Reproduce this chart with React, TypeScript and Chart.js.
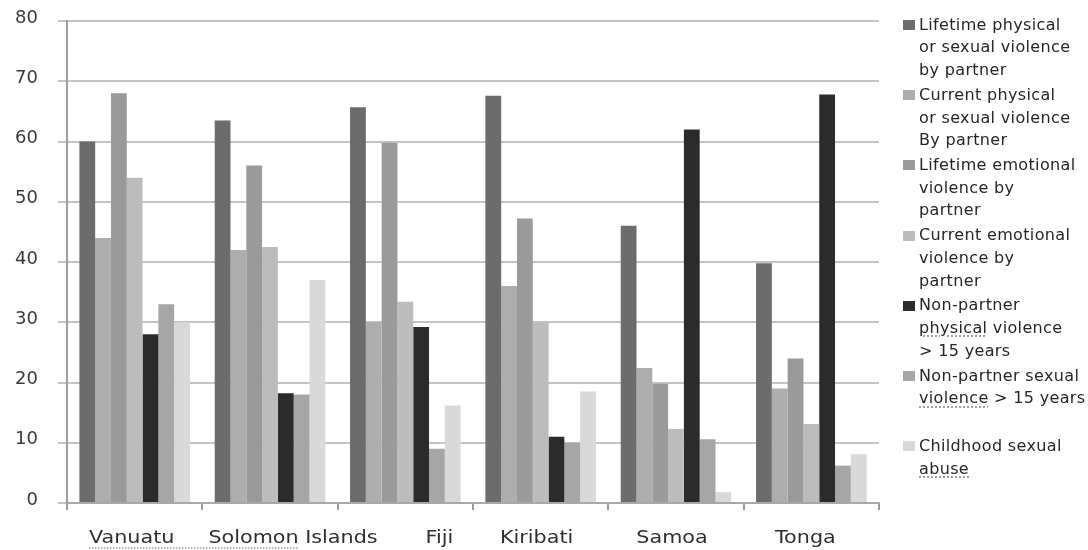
import React, { useEffect, useRef } from "react";
import { Chart, registerables } from "chart.js";

Chart.register(...registerables);

const categories = ["Vanuatu", "Solomon Islands", "Fiji", "Kiribati", "Samoa", "Tonga"];

const lifetimePhysSexPartner = [60, 63.5, 65.7, 67.6, 46, 39.8];
const currentPhysSexPartner = [44, 42, 30, 36, 22.4, 19];
const lifetimeEmotionalPartner = [68, 56, 59.8, 47.2, 19.8, 24];
const currentEmotionalPartner = [54, 42.5, 33.4, 30, 12.3, 13.1];
const nonPartnerPhysical = [28, 18.2, 29.2, 11, 62, 67.8];
const nonPartnerSexual = [33, 18, 9, 10, 10.6, 6.2];
const childhoodSexualAbuse = [30, 37, 16.2, 18.5, 1.8, 8.1];

const seriesLabels: string[][] = [
  ["Lifetime physical", "or sexual violence", "by partner"],
  ["Current physical", "or sexual violence", "By partner"],
  ["Lifetime emotional", "violence by", "partner"],
  ["Current emotional", "violence by", "partner"],
  ["Non-partner", "physical violence", "> 15 years"],
  ["Non-partner sexual", "violence > 15 years"],
  ["Childhood sexual", "abuse"],
];

const seriesValues = [
  lifetimePhysSexPartner,
  currentPhysSexPartner,
  lifetimeEmotionalPartner,
  currentEmotionalPartner,
  nonPartnerPhysical,
  nonPartnerSexual,
  childhoodSexualAbuse,
];

const yTicks = [0, 10, 20, 30, 40, 50, 60, 70, 80];

// styling
const seriesColors = ["#6c6c6c", "#adadad", "#9a9a9a", "#bcbcbc", "#2b2b2b", "#a6a6a6", "#d9d9d9"];
const labelNudge = [-3, 23, 34, -4, -4, -6];
const labelStretch = 1.15;
// [series, line, word] spell-check underline marks in legend
const legendMarks: [number, number, string][] = [
  [4, 1, "physical"],
  [5, 1, "violence"],
  [6, 1, "abuse"],
];

const catLabelPlugin = {
  id: "catLabels",
  afterDraw(chart: any) {
    const { ctx, chartArea } = chart;
    const xs = chart.scales.x;
    ctx.save();
    ctx.font = '18px "DejaVu Sans"';
    ctx.fillStyle = "#2f2f2f";
    ctx.textBaseline = "alphabetic";
    ctx.textAlign = "center";
    const baseY = chartArea.bottom + 40;
    const boxes: { l: number; r: number }[] = [];
    categories.forEach((c, i) => {
      const cx = xs.getPixelForValue(i) + labelNudge[i];
      const w = ctx.measureText(c).width * labelStretch;
      boxes.push({ l: cx - w / 2, r: cx + w / 2 });
      ctx.save();
      ctx.translate(cx, baseY);
      ctx.scale(labelStretch, 1);
      ctx.fillText(c, 0, 0);
      ctx.restore();
    });
    // spell-check dotted underline under "Vanuatu Solomon"
    const firstWord = categories[1].split(" ")[0];
    const fw = ctx.measureText(firstWord).width * labelStretch;
    ctx.strokeStyle = "#a0a0a0";
    ctx.lineWidth = 1.5;
    ctx.setLineDash([1.5, 1.5]);
    ctx.beginPath();
    ctx.moveTo(boxes[0].l, baseY + 5);
    ctx.lineTo(boxes[1].l + fw, baseY + 5);
    ctx.stroke();
    ctx.restore();
  },
};

function LegendLine({ text, mark }: { text: string; mark?: string }) {
  if (mark && text.startsWith(mark)) {
    return (
      <div style={{ whiteSpace: "nowrap" }}>
        <span style={{ textDecoration: "underline dotted #8a8a8a", textUnderlineOffset: "3px" }}>{mark}</span>
        {text.slice(mark.length)}
      </div>
    );
  }
  return <div style={{ whiteSpace: "nowrap" }}>{text}</div>;
}

export default function App() {
  const canvasRef = useRef<HTMLCanvasElement | null>(null);

  useEffect(() => {
    if (!canvasRef.current) return;
    const chart = new Chart(canvasRef.current, {
      type: "bar",
      data: {
        labels: categories,
        datasets: seriesValues.map((vals, i) => ({
          label: seriesLabels[i].join(" "),
          data: vals,
          backgroundColor: seriesColors[i],
          borderWidth: 0,
          categoryPercentage: 0.817,
          barPercentage: 1.0,
        })),
      },
      options: {
        responsive: false,
        animation: false,
        devicePixelRatio: 1,
        layout: { padding: { top: 21, right: 209, left: 0, bottom: 0 } },
        plugins: {
          legend: { display: false },
          tooltip: { enabled: false },
        },
        scales: {
          x: {
            grid: {
              display: true,
              drawOnChartArea: false,
              drawTicks: true,
              tickLength: 7,
              color: "#9a9a9a",
              lineWidth: 2,
              offset: true,
            },
            border: { display: true, color: "#a8a8a8", width: 2 },
            ticks: { display: false },
            afterFit: (s: any) => {
              s.height = 47;
              s.paddingLeft = 0;
              s.paddingRight = 0;
            },
          },
          y: {
            min: 0,
            max: 80,
            afterBuildTicks: (s: any) => {
              s.ticks = yTicks.map((v) => ({ value: v }));
            },
            ticks: {
              padding: 20,
              labelOffset: -3,
              color: "#3a3a3a",
              font: { family: "DejaVu Sans", size: 18 },
            },
            grid: { color: "#c3c3c3", lineWidth: 2, tickLength: 9 },
            border: { display: true, color: "#9c9c9c", width: 2 },
            afterFit: (s: any) => {
              s.width = 67;
              s.paddingTop = 0;
              s.paddingBottom = 0;
            },
          },
        },
      },
      plugins: [catLabelPlugin],
    });
    return () => chart.destroy();
  }, []);

  const slot = 70.2;
  const lineH = 22.7;

  return (
    <div style={{ position: "absolute", left: 0, top: 0, width: 1088, height: 550, background: "#fff", overflow: "hidden" }}>
      <canvas ref={canvasRef} width={1088} height={550} style={{ position: "absolute", left: 0, top: 0, width: 1088, height: 550 }} />
      {seriesLabels.map((lines, i) => {
        const top = 25 + slot * i - lineH / 2;
        const mark = legendMarks.find((m) => m[0] === i);
        return (
          <div key={i} style={{ position: "absolute", left: 903, top, fontFamily: '"DejaVu Sans"', fontSize: 16, letterSpacing: "0.35px", lineHeight: `${lineH}px`, color: "#262626" }}>
            <div style={{ position: "absolute", left: 0, top: lineH / 2 - 5, width: 12, height: 10, background: seriesColors[i] }} />
            <div style={{ marginLeft: 16 }}>
              {lines.map((t, j) => (
                <LegendLine key={j} text={t} mark={mark && mark[1] === j ? mark[2] : undefined} />
              ))}
            </div>
          </div>
        );
      })}
    </div>
  );
}
